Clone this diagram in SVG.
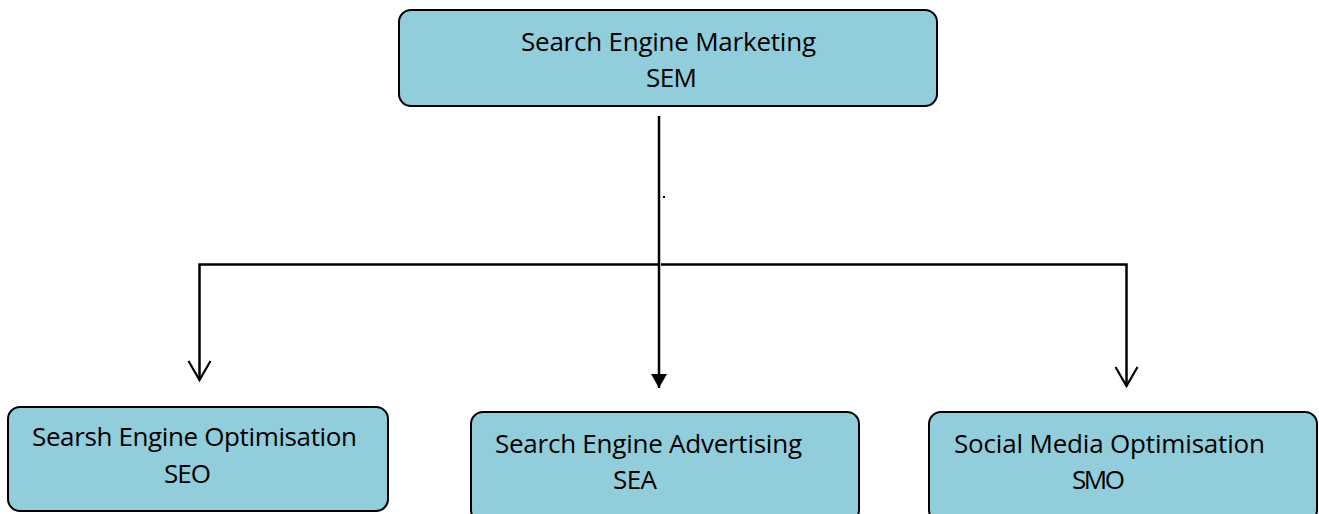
<svg xmlns="http://www.w3.org/2000/svg" width="1319" height="514" viewBox="0 0 1319 514">
<style>
.box{fill:#92CDDC;stroke:#000;stroke-width:2}
.t{font-family:"Open Sans","Liberation Sans",sans-serif;font-size:26px;fill:#000}
.c{fill:none;stroke:#000;stroke-width:2.5}
</style>
<defs>
<marker id="open" markerUnits="userSpaceOnUse" markerWidth="24" markerHeight="26" refX="20" refY="12" orient="auto" viewBox="0 0 24 24">
<path d="M1,1 L20,12 L1,23" fill="none" stroke="#000" stroke-width="2.2"/>
</marker>
<marker id="filled" markerUnits="userSpaceOnUse" markerWidth="16" markerHeight="18" refX="14" refY="8" orient="auto" viewBox="0 0 16 16">
<path d="M0,0 L14,8 L0,16 Z" fill="#000"/>
</marker>
</defs>
<rect width="1319" height="514" fill="#fff"/>
<g id="connectors">
<path class="c" d="M659,116 V388" marker-end="url(#filled)"/>
<path class="c" d="M658,264.5 H199.5 V380" marker-end="url(#open)"/>
<path class="c" d="M661,264.5 H1126.5 V386" marker-end="url(#open)"/>
<rect x="663" y="196" width="2" height="2" fill="#000"/>
</g>
<g id="sem">
<rect class="box" x="399" y="10" width="538" height="96" rx="12"/>
<text class="t" x="521" y="51" textLength="295">Search Engine Marketing</text>
<text class="t" x="646" y="87" textLength="51">SEM</text>
</g>
<g id="seo">
<rect class="box" x="8" y="407" width="380" height="104" rx="12"/>
<text class="t" x="32" y="446" textLength="325">Searsh Engine Optimisation</text>
<text class="t" x="164" y="483" textLength="47">SEO</text>
</g>
<g id="sea">
<rect class="box" x="471" y="412" width="388" height="110" rx="12"/>
<text class="t" x="495" y="453" textLength="307">Search Engine Advertising</text>
<text class="t" x="613" y="489" textLength="44">SEA</text>
</g>
<g id="smo">
<rect class="box" x="929" y="412" width="388" height="110" rx="12"/>
<text class="t" x="954" y="453" textLength="311">Social Media Optimisation</text>
<text class="t" x="1072" y="489" textLength="53">SMO</text>
</g>
</svg>
